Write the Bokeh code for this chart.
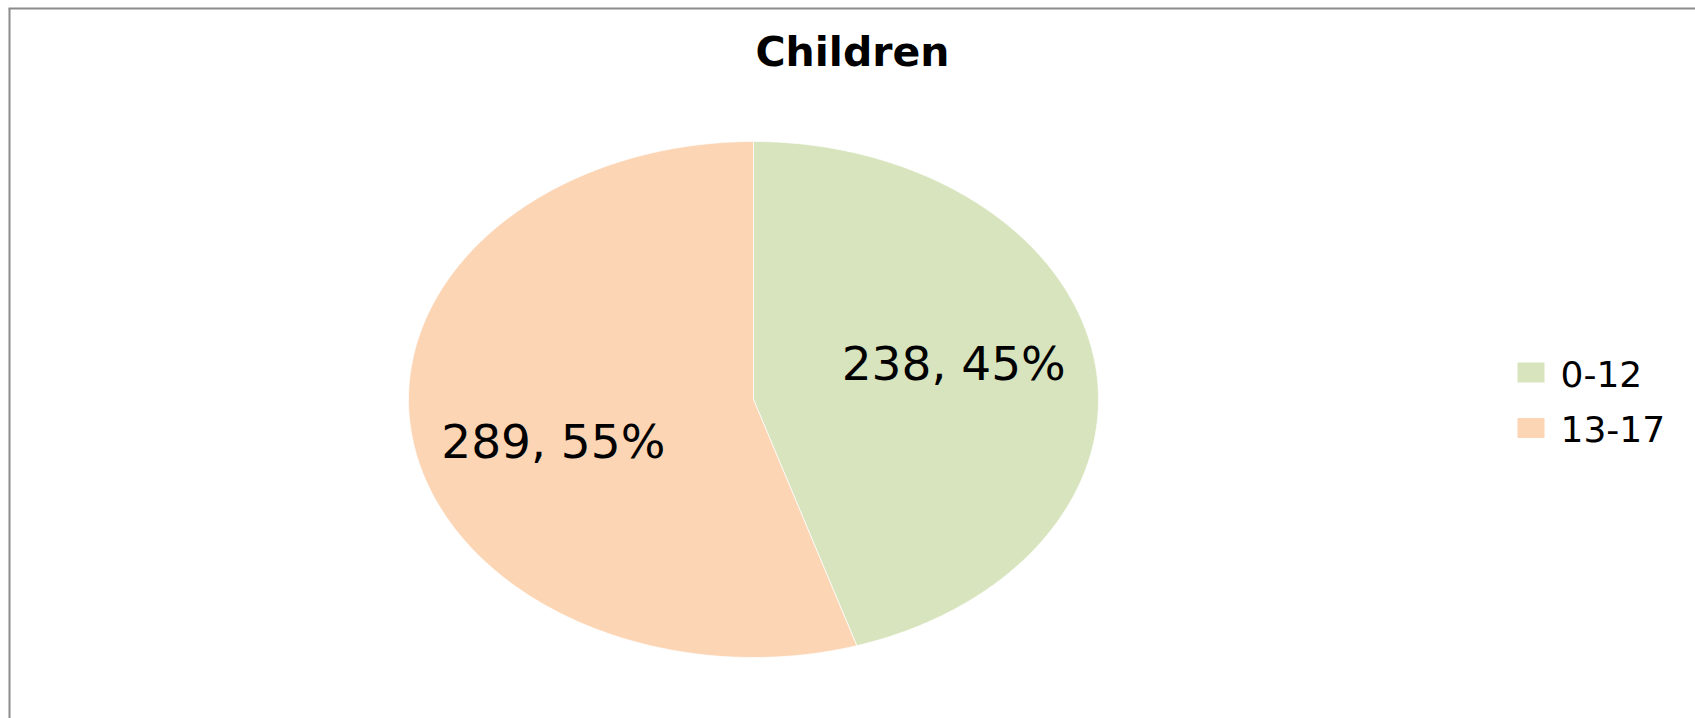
import numpy as np
from bokeh.plotting import figure
from bokeh.models import Range1d
from bokeh.core.properties import value
from bokeh.embed import file_html
from bokeh.resources import INLINE

# ---- data ----
title_text = "Children"
categories = ["0-12", "13-17"]
counts = [238, 289]
colors = ["#D7E4BD", "#FCD5B5"]

# ---- layout (pixels) ----
W, H = 1695, 718
CX_PX, CY_PX = 753, 399      # pie centre inside figure
RX, RY = 345, 258            # pie radii (ellipse)

def dx(px):
    return (px - CX_PX) / RX

def dy(py):
    return -(py - CY_PX) / RY

p = figure(width=W, height=H,
           x_range=Range1d(-CX_PX / RX, (W - CX_PX) / RX),
           y_range=Range1d(-(H - CY_PX) / RY, CY_PX / RY),
           output_backend="svg", toolbar_location=None,
           x_axis_location=None, y_axis_location=None, min_border=0)
p.grid.visible = False
p.outline_line_color = None
p.background_fill_color = "white"
p.border_fill_color = "white"

# chart border (left and top edges visible)
p.segment(x0=[dx(9), dx(8)], y0=[dy(8), dy(8)], x1=[dx(9), dx(W + 5)], y1=[dy(H + 5), dy(8)],
          line_color="#8c8c8c", line_width=2)

# ---- pie slices (clockwise from 12 o'clock) ----
total = float(sum(counts))
fracs = np.array(counts) / total
starts = np.concatenate([[0.0], np.cumsum(fracs)[:-1]])
ends = np.cumsum(fracs)
xs, ys = [], []
for s, e in zip(starts, ends):
    t = np.linspace(s, e, 300) * 2 * np.pi
    xs.append([0.0] + list(np.sin(t)) + [0.0])
    ys.append([0.0] + list(np.cos(t)) + [0.0])
p.patches(xs, ys, fill_color=colors, line_color="white", line_width=1, line_alpha=0.7)

# ---- data labels ----
label_rot = np.deg2rad(-6.0)
mids = (starts + ends) / 2 * 2 * np.pi + label_rot
r_lab = 0.6
lab_x = list(r_lab * np.sin(mids))
lab_y = list(r_lab * np.cos(mids) - 0.012)
lab_txt = [f"{c}, {round(f * 100)}%" for c, f in zip(counts, fracs)]
p.text(lab_x, lab_y, text=lab_txt, text_align="center", text_baseline="middle",
       text_font=value("DejaVu Sans"), text_font_size="47px", text_color="black")

# ---- title ----
p.text([dx(852)], [dy(51)], text=[title_text], text_align="center",
       text_baseline="alphabetic", text_font=value("DejaVu Sans"),
       text_font_style="bold", text_font_size="41px", text_color="black")

# ---- legend ----
leg_y = [dy(372), dy(427.5)]
p.rect([dx(1530.5)] * 2, leg_y, width=27, height=20, width_units="screen",
       height_units="screen", fill_color=colors, line_color=None)
p.text([dx(1560)] * 2, [dy(373.5), dy(428.5)], text=categories, text_align="left",
       text_baseline="middle", text_font=value("DejaVu Sans"),
       text_font_size="36px", text_color="black")

open("out.html", "w").write(file_html(p, INLINE))
